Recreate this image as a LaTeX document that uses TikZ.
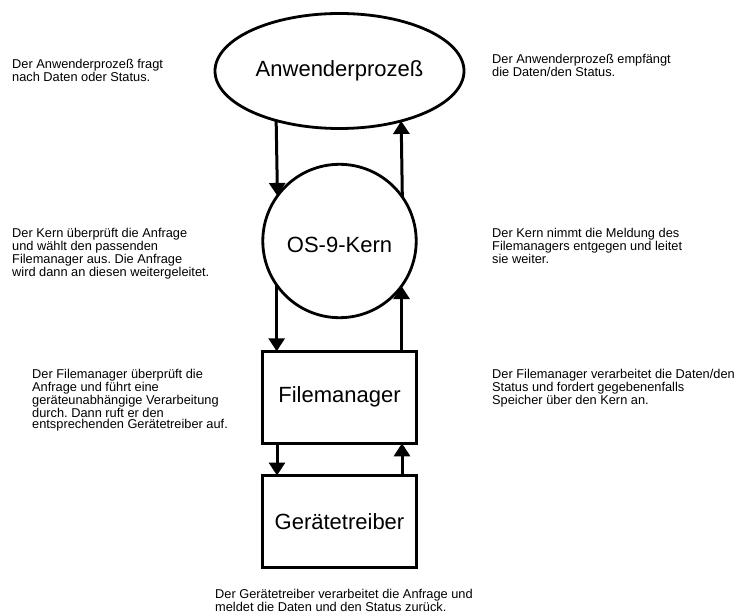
\documentclass[tikz,border=0pt]{standalone}
\usepackage{fontspec}
\setmainfont{Liberation Sans}
\frenchspacing
\usetikzlibrary{arrows.meta,positioning,shapes.geometric}
\tikzset{
  stage/.style    = {draw, line width=2.8pt, inner sep=0pt, outer sep=0pt,
                     font=\fontsize{22}{24}\selectfont},
  procnode/.style = {stage, ellipse, minimum width=249pt, minimum height=115pt},
  kernnode/.style = {stage, circle, minimum size=153.4pt, text height=24pt},
  modbox/.style   = {stage, rectangle, minimum width=154pt, minimum height=92pt},
  flow/.style     = {-{Triangle[length=13pt,width=16pt]}, line width=3pt},
  note/.style     = {font=\fontsize{12.8}{11.6}\selectfont, align=left,
                     inner sep=0pt, anchor=north west},
}
\begin{document}
\begin{tikzpicture}[x=1pt,y=1pt]
  \useasboundingbox (0,0) rectangle (740,-615);
  % layers
  \node[procnode] (app) at (339.5,-71) {Anwenderprozeß};
  \node[kernnode] (kern) at (339.5,-241) {OS-9-Kern};
  \node[modbox] (fm) at (339.5,-397.3) {Filemanager};
  \node[modbox] (gt) at (339.5,-521.5) {Gerätetreiber};
  % requests down, answers up
  \draw[flow] (app.218.5) -- (kern.144.6);
  \draw[flow] (kern.35.4) -- (app.321.5);
  \draw[flow] (kern.215.4) -- (kern.215.4 |- fm.north);
  \draw[flow] (fm.north -| kern.324.6) -- (kern.324.6);
  \draw[flow] ([xshift=-62.5pt]fm.south) -- ([xshift=-62.5pt]gt.north);
  \draw[flow] ([xshift=62.5pt]gt.north) -- ([xshift=62.5pt]fm.south);
  % notes
  \node[note] (nAppL) at (12,-59)
    {Der Anwenderprozeß fragt\\nach Daten oder Status.};
  \node[note] (nAppR) at (492,-54)
    {Der Anwenderprozeß empfängt\\die Daten/den Status.};
  \node[note] (nKernL) at (12,-228)
    {Der Kern überprüft die Anfrage\\und wählt den passenden\\Filemanager aus. Die Anfrage\\wird dann an diesen weitergeleitet.};
  \node[note] (nKernR) at (492,-228)
    {Der Kern nimmt die Meldung des\\Filemanagers entgegen und leitet\\sie weiter.};
  \node[note] (nFmL) at (32,-369)
    {Der Filemanager überprüft die\\Anfrage und führt eine\\geräteunabhängige Verarbeitung\\durch. Dann ruft er den\\entsprechenden Gerätetreiber auf.};
  \node[note] (nFmR) at (492,-369)
    {Der Filemanager verarbeitet die Daten/den\\Status und fordert gegebenenfalls\\Speicher über den Kern an.};
  \node[note] (nGt) at (215,-589)
    {Der Gerätetreiber verarbeitet die Anfrage und\\meldet die Daten und den Status zurück.};
\end{tikzpicture}
\end{document}
